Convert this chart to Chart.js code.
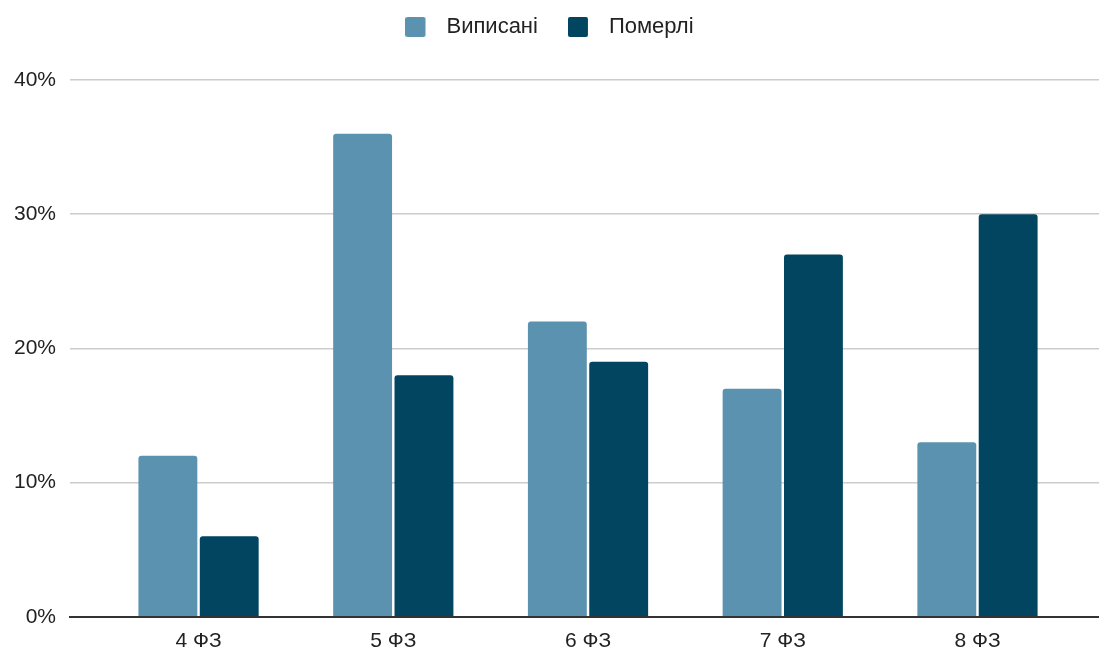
<!DOCTYPE html>
<html>
<head>
<meta charset="utf-8">
<script src="https://cdn.jsdelivr.net/npm/chart.js@4"></script>
<style>
  html, body { margin: 0; padding: 0; background: #fff; }
  #wrap { width: 1099px; height: 650px; }
</style>
</head>
<body>
<div id="wrap"><canvas id="chart"></canvas></div>
<script>
const categories = ['4 ФЗ', '5 ФЗ', '6 ФЗ', '7 ФЗ', '8 ФЗ'];
const dischargedValues = [12, 36, 22, 17, 13];
const deceasedValues = [6, 18, 19, 27, 30];
const yTicks = [0, 10, 20, 30, 40];

const lightBlue = '#5a92b0';
const darkBlue = '#024560';

// legend marker: rounded square with some empty space on its right
function legendMarker(color) {
    const c = document.createElement('canvas');
    c.width = 30;
    c.height = 20;
    const g = c.getContext('2d');
    g.fillStyle = color;
    g.beginPath();
    g.roundRect(0, 0, 20, 20, 2);
    g.fill();
    return c;
}

const legendHeight = {
    id: 'legendHeight',
    beforeInit(chart) {
        const fit = chart.legend.fit;
        chart.legend.fit = function () {
            fit.bind(chart.legend)();
            this.height = 94;
        };
    }
};

const ctx = document.getElementById('chart').getContext('2d');

new Chart(ctx, {
    type: 'bar',
    data: {
        labels: categories,
        datasets: [{
            label: 'Виписані',
            data: dischargedValues,
            backgroundColor: lightBlue,
            pointStyle: legendMarker(lightBlue),
            borderRadius: 3,
            borderSkipped: 'bottom',
            barPercentage: 0.96,
            categoryPercentage: 0.63
        }, {
            label: 'Померлі',
            data: deceasedValues,
            backgroundColor: darkBlue,
            pointStyle: legendMarker(darkBlue),
            borderRadius: 3,
            borderSkipped: 'bottom',
            barPercentage: 0.96,
            categoryPercentage: 0.63
        }]
    },
    plugins: [legendHeight],
    options: {
        responsive: true,
        maintainAspectRatio: false,
        animation: false,
        layout: { padding: { left: 0, right: 0, top: -14, bottom: -8 } },
        plugins: {
            legend: {
                position: 'top',
                labels: {
                    font: { family: 'Liberation Sans, Arial', size: 22 },
                    color: '#222',
                    usePointStyle: true,
                    pointStyleWidth: 30,
                    boxHeight: 20,
                    padding: 30
                }
            },
            tooltip: { enabled: false }
        },
        scales: {
            x: {
                grid: { display: false },
                border: { color: '#333', width: 2 },
                ticks: {
                    font: { family: 'Liberation Sans, Arial', size: 21 },
                    color: '#222',
                    padding: 4
                },
                // stretch the axis so the groups sit where the original has them
                afterBuildTicks: scale => {
                    scale._startValue = -0.66;
                    scale._valueRange = 5.284;
                }
            },
            y: {
                min: 0,
                max: 40,
                afterBuildTicks: scale => {
                    scale.ticks = yTicks.map(v => ({ value: v }));
                },
                grid: { color: '#cccccc', lineWidth: 1.5, drawTicks: false },
                border: { display: false },
                ticks: {
                    font: { family: 'Liberation Sans, Arial', size: 21 },
                    color: '#222',
                    padding: 14,
                    callback: v => v + '%'
                }
            }
        }
    }
});
</script>
</body>
</html>
